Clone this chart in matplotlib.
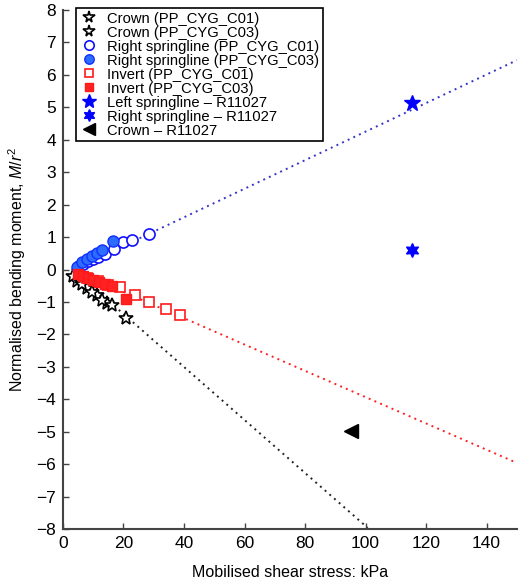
import matplotlib
matplotlib.use("Agg")
import matplotlib.pyplot as plt

plt.rcParams['font.family'] = ['Liberation Sans', 'DejaVu Sans']
plt.rcParams['mathtext.fontset'] = 'custom'
plt.rcParams['mathtext.rm'] = 'Liberation Sans'
plt.rcParams['mathtext.it'] = 'Liberation Sans:italic'

# crown (black stars)
crown_c01_x = [4.5, 7.8, 11.1, 14.4, 20.7]
crown_c01_y = [-0.34, -0.57, -0.80, -1.04, -1.50]
crown_c03_x = [3.4, 6.2, 9.5, 12.8, 16.1]
crown_c03_y = [-0.19, -0.44, -0.70, -0.94, -1.08]

# right springline (blue circles)
rs_c01_x = [5.3, 6.6, 8.3, 9.9, 11.6, 13.9, 16.9, 19.9, 22.7, 28.5]
rs_c01_y = [0.10, 0.17, 0.25, 0.33, 0.40, 0.49, 0.64, 0.84, 0.90, 1.10]
rs_c03_x = [4.5, 6.2, 7.8, 9.5, 11.1, 12.8, 16.4]
rs_c03_y = [0.09, 0.23, 0.33, 0.41, 0.50, 0.61, 0.87]

# invert (red squares)
inv_c01_x = [8.0, 11.5, 15.0, 18.8, 23.8, 28.5, 33.9, 38.6]
inv_c01_y = [-0.25, -0.36, -0.47, -0.55, -0.80, -0.99, -1.21, -1.40]
inv_c03_x = [5.1, 6.7, 8.4, 10.0, 11.9, 13.9, 16.1, 20.7]
inv_c03_y = [-0.13, -0.19, -0.26, -0.32, -0.37, -0.44, -0.52, -0.91]

# R11027 single points
left_r_x, left_r_y = [115.5], [5.12]
right_r_x, right_r_y = [115.5], [0.59]
crown_r_x, crown_r_y = [95.3], [-4.99]

# dotted trend lines (end points)
blue_fit_x, blue_fit_y = [3, 150], [-0.02, 6.45]
red_fit_x, red_fit_y = [3, 150], [0.0, -5.96]
black_fit_x, black_fit_y = [3, 100.7], [0.02, -7.96]

fig = plt.figure(figsize=(5.2, 5.84), dpi=100)
ax = fig.add_axes([0.121, 0.094, 0.873, 0.889])

dot = (0, (1, 2.2))
ax.plot(blue_fit_x, blue_fit_y, ls=dot, color='#3535c8', lw=1.4, zorder=1)
ax.plot(red_fit_x, red_fit_y, ls=dot, color='#ff2020', lw=1.4, zorder=1)
ax.plot(black_fit_x, black_fit_y, ls=dot, color='#222222', lw=1.4, zorder=1)

ax.plot(crown_c01_x, crown_c01_y, '*', ms=10, mfc='white', mec='black', mew=1.2,
        ls='none', label='Crown (PP_CYG_C01)')
ax.plot(crown_c03_x, crown_c03_y, '*', ms=10, mfc='white', mec='black', mew=1.2,
        ls='none', label='Crown (PP_CYG_C03)')
ax.plot(rs_c01_x, rs_c01_y, 'o', ms=8, mfc='white', mec='#1010ff', mew=1.2,
        ls='none', label='Right springline (PP_CYG_C01)')
ax.plot(rs_c03_x, rs_c03_y, 'o', ms=8, mfc='#2e6cff', mec='#1030ff', mew=1.0,
        ls='none', label='Right springline (PP_CYG_C03)')
ax.plot(inv_c01_x, inv_c01_y, 's', ms=6.5, mfc='white', mec='#ff1a1a', mew=1.2,
        ls='none', label='Invert (PP_CYG_C01)')
ax.plot(inv_c03_x, inv_c03_y, 's', ms=6.5, mfc='#ff2222', mec='#ff1a1a', mew=1.0,
        ls='none', label='Invert (PP_CYG_C03)')
ax.plot(left_r_x, left_r_y, '*', ms=12, color='#0000ff', ls='none',
        label='Left springline \u2013 R11027')
ax.plot(right_r_x, right_r_y, marker=(6, 1, 0), ms=10, color='#0000ff', ls='none',
        label='Right springline \u2013 R11027')
ax.plot(crown_r_x, crown_r_y, '<', ms=10, color='black', ls='none',
        label='Crown \u2013 R11027')

ax.set_xlim(0, 150)
ax.set_ylim(-8, 8)
ax.set_xticks(range(0, 141, 20))
ax.set_yticks(range(-8, 9))
ax.set_yticklabels([str(v).replace('-', '\u2212') for v in range(-8, 9)])

for s in ['top', 'right']:
    ax.spines[s].set_visible(False)
for s in ['left', 'bottom']:
    ax.spines[s].set_color('#444444')
    ax.spines[s].set_linewidth(1.5)
ax.tick_params(direction='in', length=4, width=1, color='#444444',
               labelsize=12.5, pad=5)

ax.set_xlabel('Mobilised shear stress: kPa', fontsize=11.5, labelpad=10)
ax.set_ylabel('Normalised bending moment, $M/r^2$', fontsize=11.5, labelpad=6)

leg = ax.legend(loc='upper left', bbox_to_anchor=(0.028, 1.004), borderaxespad=0,
                fontsize=10.6, labelspacing=0.0, handlelength=1.3,
                handletextpad=0.6, borderpad=0.25, markerscale=0.85,
                fancybox=False, framealpha=1, edgecolor='black')
leg.get_frame().set_linewidth(1.2)

fig.savefig('out.png', dpi=100)
